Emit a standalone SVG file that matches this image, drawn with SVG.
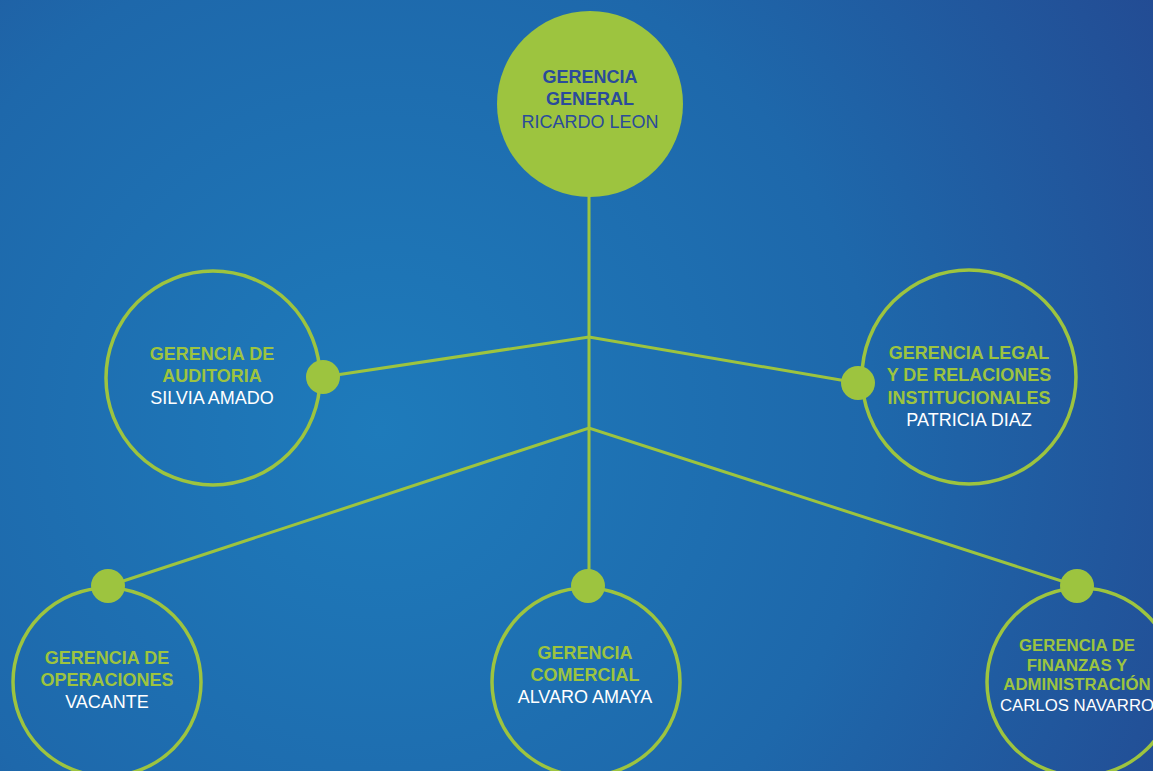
<svg xmlns="http://www.w3.org/2000/svg" width="1153" height="771" viewBox="0 0 1153 771">
<defs>
<radialGradient id="bg" cx="380" cy="430" r="900" gradientUnits="userSpaceOnUse">
<stop offset="0" stop-color="#1e7bbb"/>
<stop offset="0.55" stop-color="#1e68ab"/>
<stop offset="1" stop-color="#234b93"/>
</radialGradient>
<style>
.ring{fill:none;stroke:#9dc43f;stroke-width:3.5}
.dot{fill:#9dc43f}
.ln{stroke:#9dc43f;stroke-width:3;fill:none}
text{font-family:"Liberation Sans",Arial,sans-serif;text-anchor:middle;font-size:18px}
.t{font-weight:bold;fill:#9dc43f}
.n{fill:#ffffff}
.td{font-weight:bold;fill:#2a4b9b}
.nd{fill:#2a4b9b}
.s{font-size:16.8px}
</style>
</defs>
<rect width="1153" height="771" fill="url(#bg)"/>
<g id="connectors">
<line class="ln" x1="589" y1="195" x2="589" y2="580"/>
<polyline class="ln" points="323,377 589,337 858,383"/>
<polyline class="ln" points="108,586 589,428 1077,586"/>
</g>
<g id="gerencia-general">
<circle cx="590" cy="104" r="93" fill="#9dc43f"/>
<text class="td" x="590" y="83">GERENCIA</text>
<text class="td" x="590" y="105">GENERAL</text>
<text class="nd" x="590" y="128">RICARDO LEON</text>
</g>
<g id="auditoria">
<circle class="ring" cx="213" cy="378" r="107"/>
<circle class="dot" cx="323" cy="377" r="17"/>
<text class="t" x="212" y="360">GERENCIA DE</text>
<text class="t" x="212" y="382">AUDITORIA</text>
<text class="n" x="212" y="404">SILVIA AMADO</text>
</g>
<g id="legal">
<circle class="ring" cx="969" cy="377" r="107"/>
<circle class="dot" cx="858" cy="383" r="17"/>
<text class="t" x="969" y="359">GERENCIA LEGAL</text>
<text class="t" x="969" y="381">Y DE RELACIONES</text>
<text class="t" x="969" y="404">INSTITUCIONALES</text>
<text class="n" x="969" y="426">PATRICIA DIAZ</text>
</g>
<g id="operaciones">
<circle class="ring" cx="107" cy="682" r="94"/>
<circle class="dot" cx="108" cy="586" r="17"/>
<text class="t" x="107" y="664">GERENCIA DE</text>
<text class="t" x="107" y="686">OPERACIONES</text>
<text class="n" x="107" y="708">VACANTE</text>
</g>
<g id="comercial">
<circle class="ring" cx="586" cy="682" r="94"/>
<circle class="dot" cx="588" cy="586" r="17"/>
<text class="t" x="585" y="659">GERENCIA</text>
<text class="t" x="585" y="681">COMERCIAL</text>
<text class="n" x="585" y="703">ALVARO AMAYA</text>
</g>
<g id="finanzas">
<circle class="ring" cx="1081" cy="682" r="94"/>
<circle class="dot" cx="1077" cy="586" r="17"/>
<text class="t s" x="1077" y="651">GERENCIA DE</text>
<text class="t s" x="1077" y="671">FINANZAS Y</text>
<text class="t s" x="1077" y="690">ADMINISTRACIÓN</text>
<text class="n s" x="1077" y="711">CARLOS NAVARRO</text>
</g>
</svg>
